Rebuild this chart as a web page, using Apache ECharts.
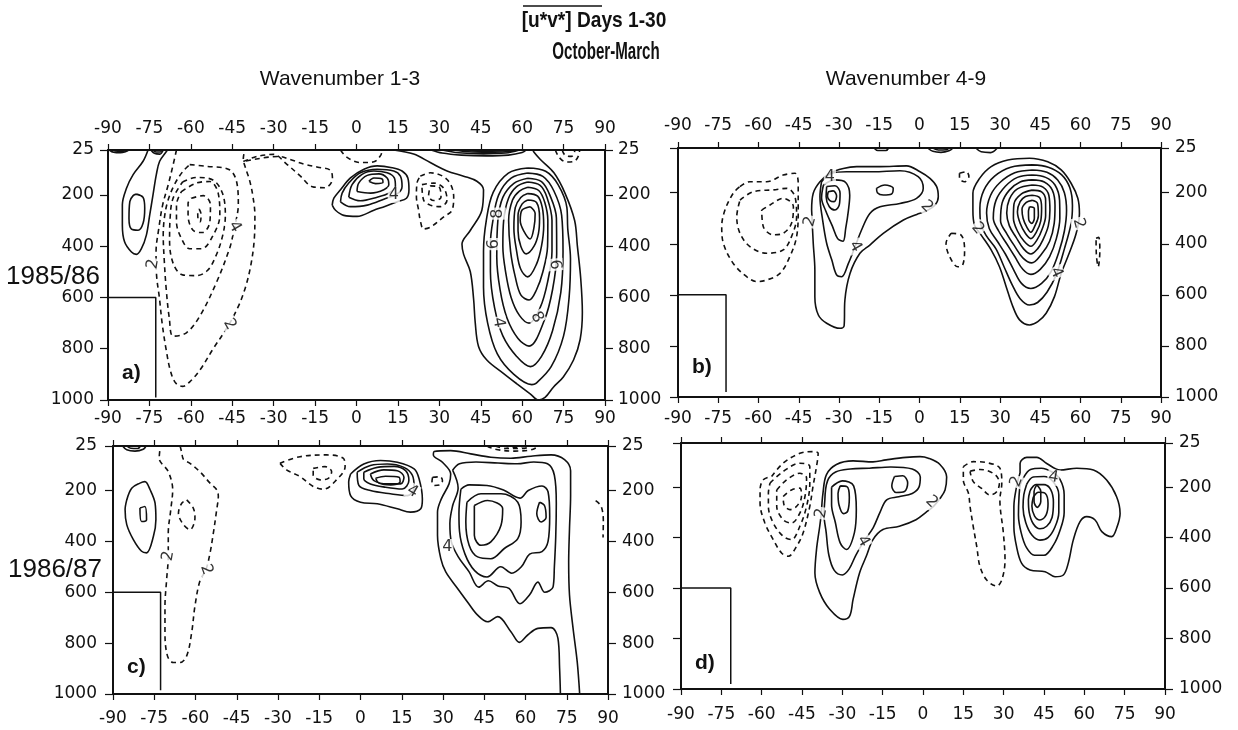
<!DOCTYPE html>
<html>
<head>
<meta charset="utf-8">
<script src="https://cdn.jsdelivr.net/npm/echarts@6/dist/echarts.min.js"></script>
<style>
html,body{margin:0;padding:0;background:#fff}
#chart{width:1238px;height:730px}
</style>
</head>
<body>
<div id="chart"></div>
<script>
// Axis ticks: pressure (hPa); latitude ticks come from a 15-degree interval
const pressureTicks = [25, 200, 400, 600, 800, 1000];

// ---------- Panel a: 1985/86, wavenumber 1-3 ----------
const aSolidOpen = [
  [[-75.5,25],[-77.3,69],[-80.9,121],[-83.3,174],[-84.8,239],[-84.8,318],[-84,383],[-81.5,423],[-79.7,432],[-77.9,410],[-76.1,357],[-74.9,279],[-73.7,200],[-72.5,121],[-71.3,69],[-68.8,30],[-68.5,25]],
  [[-89.5,25],[-88,34],[-85.5,36],[-83.5,31],[-82.5,25]],
  [[-88.5,25],[-86.5,30],[-84.5,30],[-83.5,25]],
  [[-74.5,25],[-73.2,38],[-71.2,41],[-70,25]],
  [[-73.8,25],[-72.6,33],[-71,33],[-70.6,25]],
  [[27,25],[31,37],[38,45],[47,48],[55,45],[60,35],[61.5,25]],
  [[31,25],[37,36],[46,40],[54,37],[59,25]],
  [[35,25],[42,33],[50,34],[56,30],[57.5,25]],
  [[39,25],[45,30],[52,29],[55,25]],
  [[13.5,25],[20.7,41],[26.7,74],[32.8,107],[38.8,127],[43.6,147],[46,180],[45.4,260],[41.2,339],[38.2,392],[38.8,432],[41.2,499],[42.4,605],[43,698],[44.2,791],[47.2,844],[53.3,897],[58.1,937],[62.9,976],[65.9,1000],[68.3,990],[71.3,950],[74.9,910],[78.6,844],[81,764],[81.8,658],[81.2,525],[80,400],[79,300],[75.5,193],[71.5,114],[66.5,61],[64.3,34],[63.9,25]]
];
const aSolidLoops = [
  [[-79.7,197],[-77.3,210],[-76.7,252],[-77.3,311],[-79.1,338],[-81.5,334],[-82.4,292],[-82.1,226],[-80.9,203]],
  [[-8.8,240],[-7.6,260],[-4.6,280],[0.2,284],[6.3,260],[10.5,244],[14.7,227],[18.1,213],[19,180],[18.6,134],[16.5,107],[12.9,94],[7.5,87],[2.7,100],[-2.2,134],[-5.8,180],[-8.2,213]],
  [[-5.8,227],[-2.2,246],[3.9,240],[9.9,217],[14.7,196],[16.5,167],[15.9,127],[13.5,107],[7.5,100],[1.4,114],[-2.8,154],[-5.2,193]],
  [[-2.8,209],[1.4,223],[7.5,209],[11.7,193],[14.1,167],[13.7,134],[11.1,114],[6.3,107],[2,120],[-1.6,160]],
  [[0.2,187],[5.1,193],[9.9,180],[11.7,160],[11.1,134],[8.1,118],[3.9,124],[0.8,154]],
  [[4.5,147],[6.9,156],[9.6,151],[9.3,138],[6.3,134]],
  [[62,95],[68.5,108],[73,160],[76.2,250],[76.5,330],[77.5,450],[77,600],[75,750],[70.5,870],[65,935],[63.5,940],[57,900],[51,820],[47.5,700],[46,560],[46,420],[47,300],[49.5,190],[55,115]],
  [[62,115],[67.5,128],[71.5,185],[74.3,280],[74.8,420],[74,580],[71,730],[67,830],[63,870],[58,830],[53,750],[50,640],[48.5,500],[48.5,390],[49.4,300],[51.5,200],[56,135]],
  [[62,135],[67,148],[70,200],[72.4,290],[72.5,430],[71,570],[68,690],[62.5,790],[58.5,760],[54.5,680],[52,570],[50.8,440],[51.2,300],[53,210],[57,155]],
  [[62,150],[66.5,163],[69,210],[70.8,300],[70.8,420],[69.2,540],[66.5,640],[62.5,700],[59,670],[56,600],[54,500],[53,400],[53.3,300],[55,215],[58,168]],
  [[62,170],[66,183],[68.2,230],[69.3,300],[69.2,400],[67.5,500],[65.2,570],[62.5,610],[59.5,590],[57.5,520],[55.8,420],[55.1,300],[56.5,220],[59,185]],
  [[62,195],[65.6,205],[67.3,250],[67.8,320],[67,400],[65.2,470],[62,520],[59.5,490],[58,420],[57,330],[57.5,250],[59.5,210]],
  [[62,220],[65.2,230],[66.3,290],[65.9,350],[64.3,400],[61.5,430],[59.5,400],[58.5,340],[58.5,280],[60,235]],
  [[62.9,246],[64.7,273],[64.3,326],[62.9,372],[60.5,339],[59.3,300],[59.9,260]]
];
const aDashOpen = [
  [[-65.2,25],[-66.4,82],[-68.2,161],[-70.2,239],[-71.6,331],[-72.6,423],[-72.4,515],[-71.4,600],[-70.4,700],[-69,800],[-67.3,890],[-65.4,935],[-63,947],[-60,925],[-56.5,880],[-51.9,800],[-47,720],[-43,640],[-40.2,560],[-38.2,470],[-37,370],[-36.8,280],[-37.6,200],[-38.8,140],[-40.2,95],[-41,60],[-40.5,25]],
  [[-5.8,25],[-3.4,54],[1.4,74],[6.3,71],[8.7,47],[9.3,25]],
  [[72,25],[73.5,55],[76,72],[79,68],[80.5,45],[80.8,25]],
  [[74.5,25],[75.5,45],[77.8,50],[79,30],[79,25]]
];
const aDashLoops = [
  [[-60.4,82],[-55,88],[-46,102],[-43.2,161],[-42.8,239],[-43.6,300],[-44.5,345],[-46,410],[-50.7,541],[-56.7,672],[-61.6,738],[-66.4,751],[-67.8,680],[-68.9,570],[-69.6,460],[-70,357],[-69.6,292],[-68.4,226],[-66,161],[-63,110]],
  [[-63,150],[-58,132],[-52,142],[-48.5,195],[-47.5,280],[-48.5,360],[-51,440],[-54,495],[-58,515],[-63,512],[-66.3,470],[-67.7,380],[-67.5,290],[-66.5,215]],
  [[-63.4,187],[-58,154],[-53.1,148],[-50.1,193],[-49.5,279],[-51.9,357],[-56.1,410],[-60.4,410],[-63.4,370],[-65.2,305],[-65.2,239]],
  [[-59.8,213],[-55.5,203],[-52.9,239],[-53.1,305],[-55.8,347],[-59.2,338],[-61,279],[-61,233]],
  [[-57,255],[-56.3,275],[-56.6,305],[-57.3,300],[-57.5,270]],
  [[-41,70],[-36,50],[-30,42],[-25.5,78],[-20.5,125],[-16,168],[-11.5,172],[-8.7,138],[-9.5,104],[-14,92],[-19,80],[-24,62],[-28,50]],
  [[23.1,127],[26.7,114],[32.8,140],[35.2,207],[34.6,260],[31.6,286],[26.7,326],[24.3,333],[23.1,300],[22.5,260],[21.7,207],[21.9,154]],
  [[23.7,160],[28,154],[31.6,174],[32.8,220],[30.4,246],[26.7,240],[24.3,220]],
  [[26.7,165],[29.8,168],[30.6,209],[28,222],[26.1,204]]
];
const aLabels = [[-73.7,470,'2'],[-44.1,325,'4'],[-45.9,705,'2'],[13.5,200,'4'],[51.2,273,'8'],[49.6,392,'6'],[71.9,472,'6'],[65.3,678,'8'],[51.4,698,'4']];
const aLabelTilt = [80,-60,-60,0,90,90,-85,-60,-80];
const aBox = [[-90,600],[-72.7,600],[-72.7,990]];

// ---------- Panel b: 1985/86, wavenumber 4-9 ----------
const bSolidOpen = [
  [[3,25],[5,38],[8,42],[11,36],[12.5,25]],
  [[5,25],[7,33],[10,32],[11,25]],
  [[21,25],[23,40],[26.5,43],[29,25]],
  [[-17,25],[-15.5,35],[-12.5,35],[-11.5,25]]
];
const bSolidLoops = [
  [[-40.2,268],[-39.6,398],[-39,503],[-39,607],[-37.7,679],[-34.6,711],[-29.6,731],[-28.1,722],[-27.8,620],[-25.9,516],[-22.2,437],[-18.5,405],[-13.5,359],[-6,307],[-1,285],[2,274],[5.8,248],[7,216],[6.4,176],[3.9,144],[0.2,118],[-4.8,95],[-14.7,98],[-23.4,98],[-28.4,105],[-33.4,124],[-37.1,157],[-39.6,202]],
  [[-36.5,157],[-32.7,124],[-27.2,118],[-17.2,118],[-7.3,114],[-0.5,137],[1.4,183],[-1.1,222],[-7.3,242],[-14.7,255],[-18.5,281],[-21.6,346],[-24,411],[-26.5,477],[-29,529],[-30.9,522],[-32.7,463],[-34.6,398],[-36.1,307],[-37.1,216]],
  [[-35.8,170],[-31.5,150],[-27.5,160],[-26,210],[-26.5,270],[-27.5,340],[-28.5,390],[-30.5,380],[-32.5,330],[-35,270],[-36.5,220]],
  [[-34.6,176],[-31.5,173],[-29.6,202],[-29.9,248],[-31.5,268],[-33.6,255],[-34.8,216]],
  [[-34,196],[-32.2,193],[-30.9,213],[-31.8,235],[-33.4,231],[-34.3,213]],
  [[-16,183],[-12.9,170],[-9.8,183],[-10.4,205],[-13.5,209],[-15.7,200]],
  [[19.9,268],[19.9,202],[22.4,144],[26.7,98],[32.9,72],[41,65],[47.8,79],[52.8,111],[56.5,163],[59,222],[59.6,281],[58.4,359],[55.3,450],[52.8,516],[50.3,607],[47.2,672],[44.1,705],[41,718],[37.3,698],[34.8,646],[32.3,568],[29.8,490],[26.7,424],[23,366],[20.5,327]],
  [[42,91],[48,100],[53,130],[56,180],[57,250],[56.5,320],[54,420],[51,520],[47.5,590],[44,630],[41,640],[37.5,615],[34.5,560],[31.5,490],[28.5,420],[25,370],[22.8,320],[22.5,260],[24,190],[28,135],[34,100]],
  [[42,111],[47.5,120],[51.5,150],[54,200],[54.8,270],[54,350],[52,430],[49,510],[45.5,555],[41.5,575],[38,555],[35,500],[32,440],[29,390],[26,340],[25,280],[26.5,210],[30,160],[35.5,122]],
  [[42,131],[47,140],[50.5,170],[52.2,230],[52.3,300],[51,380],[48.5,450],[45,500],[41.5,520],[38.5,500],[35.5,450],[32.5,400],[29.5,350],[27.5,300],[28.5,230],[32,175],[36.5,140]],
  [[42,150],[46.5,158],[49.5,190],[50.5,250],[50.2,320],[48.5,390],[45.5,440],[41.8,475],[38.5,455],[35.5,410],[32.5,360],[30.2,310],[30.8,240],[33.5,190],[37.5,158]],
  [[42,170],[46,178],[48.2,210],[48.6,270],[48,330],[46,385],[44,420],[41.5,440],[38.8,420],[36,375],[33.5,330],[32.5,280],[33.5,225],[36.5,185]],
  [[42,190],[45.5,197],[47,230],[47,290],[45.8,340],[43.8,385],[41.5,410],[39,390],[36.5,350],[35,300],[35.2,245],[38,205]],
  [[42,210],[44.8,220],[45.5,260],[45.2,310],[43.5,355],[41.5,380],[39.5,360],[37.5,320],[36.5,275],[37.5,235],[39.5,215]],
  [[42,230],[44,243],[44.3,290],[43,330],[41.5,355],[40,335],[38.6,300],[38.2,265],[39.8,238]],
  [[41,255],[42.8,262],[42.8,300],[41.8,320],[40.7,305],[40.6,275]]
];
const bDashLoops = [
  [[-66.9,176],[-63.2,157],[-57,157],[-50.8,131],[-46.4,124],[-45.2,163],[-45.2,268],[-45.8,372],[-48.3,450],[-52,516],[-57,542],[-60.7,548],[-64.4,529],[-69.4,477],[-73.1,398],[-73.7,333],[-72.5,268],[-69.4,202]],
  [[-66.9,229],[-61.9,196],[-54.5,189],[-49.5,183],[-46.4,216],[-45.8,294],[-47.7,372],[-50.8,424],[-57,437],[-63.2,411],[-66.9,359],[-68.1,294]],
  [[-58.8,268],[-55.7,248],[-50.8,222],[-47,255],[-47.7,320],[-50.8,359],[-54.5,365],[-58.2,333]],
  [[14.9,124],[17.4,118],[18.4,137],[16.8,157],[14.9,144]],
  [[11.8,359],[15.5,366],[16.8,424],[16.1,483],[14.3,490],[11.2,450],[9.9,398]],
  [[65.8,378],[66.8,375],[67.2,430],[66.6,490],[65.9,440]]
];
const bLabels = [[-33.4,137,'4'],[-40.8,313,'2'],[-24,411,'4'],[2.7,255,'2'],[21.7,340,'2'],[59.4,320,'2'],[50.9,513,'4']];
const bLabelTilt = [0,75,-60,-45,-50,-75,-65];
const bBox = [[-90,600],[-72.1,600],[-72.1,980]];

// ---------- Panel c: 1986/87, wavenumber 1-3 ----------
const cSolidOpen = [
  [[-86.5,25],[-85,40],[-82,45],[-79,38],[-78,25]],
  [[-85,25],[-83.5,34],[-81,35],[-80,25]],
  [[72.7,1000],[72.4,899],[71.8,781],[69.3,739],[64.5,742],[60.8,768],[57.8,797],[54.7,755],[49.9,696],[46.2,716],[42.6,690],[38.9,638],[35.3,585],[31,520],[29.2,468],[28,376],[28,285],[29.4,233],[32.2,174],[32.8,135],[29.8,89],[26.5,60],[26.8,47],[32.8,43],[40.1,56],[47.4,69],[54.7,73],[62,65],[69.3,60],[74.2,79],[76.4,122],[76.4,220],[76,350],[75.7,481],[76,611],[77.3,742],[78.8,873],[79.7,1000]]
];
const cSolidLoops = [
  [[-85,237],[-83.2,191],[-80.2,171],[-78.4,165],[-76.5,197],[-74.7,250],[-74.4,315],[-75.3,380],[-77.8,445],[-79.6,439],[-82.6,393],[-85,334],[-85.6,276]],
  [[-80.2,269],[-78.4,263],[-77.8,315],[-79.6,322]],
  [[-3.6,135],[1.2,96],[7.3,82],[13.4,89],[19.5,115],[21.3,154],[22.5,233],[21.9,272],[18.2,285],[13.4,272],[6.1,252],[0,246],[-3.6,220],[-4.3,167]],
  [[-1.2,128],[3.6,102],[9.7,96],[15.8,109],[18.9,141],[19.5,187],[17,220],[10.9,213],[3.6,200],[-0.6,180]],
  [[1.2,128],[6.1,109],[12.2,105],[16.4,122],[17.6,161],[15.2,194],[9.1,187],[3.6,174],[1.2,154]],
  [[3.6,135],[8.5,119],[13.4,122],[15.8,148],[14.6,174],[9.7,174],[4.9,161]],
  [[5.5,152],[9.1,144],[14,148],[14.4,167],[11,178],[6.7,171]],
  [[33.5,120],[36,95],[42,88],[50,92],[57,95],[63,88],[68,95],[70.5,140],[71.2,250],[71,380],[70.5,500],[70,580],[67,600],[64.5,560],[61.5,610],[58,645],[54,585],[50,575],[46.5,555],[43,580],[39.5,520],[35.5,460],[33,400],[32.5,330],[33.5,260],[35.5,190]],
  [[36.5,195],[39.5,178],[46,180],[52,198],[58,230],[61,200],[66,182],[68.2,205],[68.8,300],[68.2,400],[66,440],[61.5,450],[58.5,500],[55,525],[51,500],[46,540],[41.5,515],[38,450],[36,360],[35.8,290]],
  [[38.7,246],[43.8,213],[51.1,213],[57.2,246],[58.4,324],[57.2,389],[52.3,428],[47.4,468],[42.6,461],[39.5,415],[38.3,324]],
  [[41.4,259],[46.2,239],[51.7,272],[51.1,337],[47.4,402],[43.8,415],[41.4,376],[41.4,298]],
  [[65.1,246],[66.9,259],[67.5,305],[65.7,324],[64.1,291]]
];
const cDashOpen = [
  [[-73,45],[-73.2,73],[-69.9,126],[-68.3,197],[-69,276],[-69.9,367],[-69.9,458],[-70.5,550],[-71.1,654],[-71.1,759],[-70.2,850],[-68.1,876],[-65.6,876],[-63.2,850],[-61.4,759],[-60.2,654],[-58.4,556],[-56.2,511],[-54.7,445],[-53.5,367],[-52.3,276],[-51.7,223],[-52.3,197],[-54.7,171],[-58.4,126],[-62,93],[-64.4,77],[-65,51],[-65.6,25]],
  [[85.5,240],[87.5,262],[88.3,320],[88.2,385]],
  [[46,25],[49,38],[56,45],[62,40],[65,25]],
  [[49,25],[53,35],[59,35],[62,25]],
  [[52,25],[56,31],[60,25]]
];
const cDashLoops = [
  [[-63.2,237],[-60.8,269],[-60.2,308],[-62,354],[-64.4,334],[-66.2,289],[-65,250]],
  [[-29.3,93],[-22,67],[-12.3,60],[-6.3,73],[-5.6,106],[-8.7,158],[-13.5,195],[-17.2,184],[-22,145],[-26.9,119]],
  [[-17.2,113],[-12.9,106],[-10.5,126],[-11.7,152],[-14.7,158],[-17.2,139]],
  [[26.2,148],[29,146],[29.8,162],[28.8,178],[26.8,180],[26,165]]
];
const cLabels = [[-69.9,458,'2'],[-56,511,'2'],[18.9,204,'4'],[31.6,422,'4']];
const cLabelTilt = [80,-70,-30,0];
const cBox = [[-90,600],[-72.7,600],[-72.7,985]];

// ---------- Panel d: 1986/87, wavenumber 4-9 ----------
const dSolidLoops = [
  [[-37.8,303],[-38.4,355],[-39.6,447],[-40.2,540],[-38.4,618],[-34.7,684],[-29.8,724],[-27.3,711],[-26,645],[-23.6,540],[-21.1,474],[-18.6,408],[-14.9,368],[-8.8,355],[-2.6,329],[1.1,300],[4,275],[6.3,245],[8.2,211],[8.8,160],[6.3,110],[2,85],[-1.1,79],[-6.3,82],[-13.7,92],[-18.6,100],[-26,96],[-32.2,110],[-35.9,150],[-37.2,224]],
  [[-36.5,250],[-35.5,175],[-32.5,140],[-27,128],[-20,125],[-12,120],[-4,128],[-1,160],[-1.5,200],[-4,225],[-9,238],[-13.5,250],[-16,300],[-18.5,360],[-22,415],[-25,470],[-27.5,525],[-30,548],[-33,530],[-35,470],[-36,380],[-36.8,310]],
  [[-34,200],[-30,175],[-25.8,195],[-24.8,289],[-25.5,380],[-28.5,447],[-30.8,421],[-32.6,340],[-34,270]],
  [[-30.8,195],[-28.3,198],[-27.4,240],[-28,295],[-29.6,305],[-31.2,272],[-31.6,225]],
  [[-10.6,158],[-7.5,155],[-5.7,184],[-6.9,217],[-10,221],[-11.6,195]],
  [[36.1,145],[36.1,106],[38.6,82],[42.3,82],[46,106],[51,132],[57.2,125],[63.4,132],[68.3,172],[72,238],[73.3,304],[72,363],[70.2,396],[66.5,376],[64,330],[60.9,317],[58.4,337],[55.9,409],[54,502],[52.2,548],[49.1,555],[45.4,535],[39.8,528],[36.7,502],[34.8,436],[33.8,357],[33.8,277],[34.8,198]],
  [[37.5,160],[40,130],[44,125],[48,140],[51,170],[52.5,230],[52.5,300],[51,370],[48.5,430],[45,470],[41.5,470],[38.5,440],[36.5,380],[35.5,310],[35.7,240],[36.2,190]],
  [[38.5,190],[41,160],[45,158],[48.5,180],[50.5,230],[50.5,300],[49,360],[46.5,400],[43.5,410],[40.5,390],[38.2,340],[37.2,280],[37.5,230]],
  [[39.8,215],[42,190],[45,190],[47.5,210],[48.5,260],[48,320],[46,355],[43.5,365],[41,345],[39.5,300],[39.2,250]],
  [[41,240],[43,220],[45.5,225],[46.5,265],[45.8,310],[43.5,330],[41.5,315],[40.5,275]],
  [[42.3,191],[43.8,217],[43.8,257],[42.5,280],[41.3,257],[41.3,217]]
];
const dDashLoops = [
  [[-56.3,158],[-52,105],[-45.8,66],[-40.9,59],[-39,66],[-39.6,118],[-40.9,197],[-42.1,276],[-44.6,382],[-47,434],[-50.1,474],[-52.6,461],[-55.7,408],[-58.8,342],[-60.6,263],[-60.6,211],[-59.4,171]],
  [[-56.9,184],[-52,138],[-45.8,105],[-42.1,118],[-42.1,184],[-43.3,276],[-45.8,355],[-48.9,408],[-52,395],[-55.7,342],[-57.5,276],[-57.5,224]],
  [[-54.4,211],[-50.7,171],[-45.8,145],[-43.3,164],[-43.9,237],[-45.8,303],[-48.9,342],[-52,329],[-54.4,276]],
  [[-52,237],[-48.9,211],[-45.8,204],[-45.2,237],[-47,276],[-49.5,289],[-51.7,270]],
  [[15,119],[18.7,99],[23.7,103],[28.6,125],[29.3,185],[28.6,251],[29.9,383],[30.5,489],[29.3,568],[27.4,592],[23.7,568],[21.2,515],[20,436],[18.7,357],[17.5,277],[16.9,224],[15,172]],
  [[17.5,137],[21.2,130],[26.8,150],[28.4,185],[27.4,218],[24.9,231],[21.8,205],[18.7,178]]
];
const dLabels = [[-37.8,303,'2'],[-22.3,415,'4'],[3.2,258,'2'],[34.8,178,'2'],[48.5,161,'4']];
const dLabelTilt = [80,-60,-45,70,-10];
const dBox = [[-90,600],[-71.5,600],[-71.5,980]];

// ---------- layout ----------
const grids = [
  {left:108, top:150, width:497, height:250},
  {left:678, top:148, width:483, height:249},
  {left:113, top:446, width:495, height:248},
  {left:681, top:443, width:484, height:246}
];
// label margins per panel: [bottom, top, left, right]; null hides the labels
const labelMargins = [
  [10, 13, 14, 13],
  [13, 14, null, 14],
  [16, null, 16, 14],
  [17, null, null, 14]
];

const INK = '#111';
const tickFont = {color: INK, fontSize: 17, fontFamily: '"DejaVu Sans", Verdana, sans-serif', formatter: v => String(v)};

function xAxisFor(g, position, margin) {
  return {
    type: 'value', gridIndex: g, position, min: -90, max: 90, interval: 15,
    axisLine: {show: true, onZero: false, lineStyle: {color: INK, width: 2}},
    axisTick: {show: true, length: 6, lineStyle: {color: INK, width: 1.2}},
    axisLabel: Object.assign({show: margin !== null, margin: margin || 8}, tickFont),
    splitLine: {show: false}
  };
}
function yAxisFor(g, position, margin) {
  return {
    type: 'value', gridIndex: g, position, min: 25, max: 1000, inverse: true,
    axisLine: {show: true, onZero: false, lineStyle: {color: INK, width: 2}},
    axisTick: {show: true, length: 8, customValues: pressureTicks, lineStyle: {color: INK, width: 1.2}},
    axisLabel: Object.assign({show: margin !== null, margin: margin || 8, customValues: pressureTicks}, tickFont),
    splitLine: {show: false}
  };
}

const xAxes = [], yAxes = [];
grids.forEach((g, i) => {
  const m = labelMargins[i];
  xAxes.push(xAxisFor(i, 'bottom', m[0]));
  xAxes.push(xAxisFor(i, 'top', m[1]));
  yAxes.push(yAxisFor(i, 'left', m[2]));
  yAxes.push(yAxisFor(i, 'right', m[3]));
});

function close(pts) { return pts.concat([pts[0]]); }

function contourSeries(panel, lines, dashed, loop) {
  return lines.map(pts => ({
    type: 'line', xAxisIndex: 2 * panel, yAxisIndex: 2 * panel,
    data: loop ? close(pts) : pts,
    symbol: 'none', smooth: 0.35, silent: true, animation: false, z: 3,
    lineStyle: {color: INK, width: 1.6, type: dashed ? [5, 4] : 'solid'}
  }));
}
function boxSeries(panel, pts) {
  return {
    type: 'line', xAxisIndex: 2 * panel, yAxisIndex: 2 * panel, data: pts,
    symbol: 'none', silent: true, animation: false, z: 3,
    lineStyle: {color: INK, width: 1.5}
  };
}
function labelSeries(panel, items, tilts) {
  return {
    type: 'scatter', xAxisIndex: 2 * panel, yAxisIndex: 2 * panel,
    symbolSize: 1, itemStyle: {color: 'rgba(0,0,0,0)'}, silent: true, animation: false, z: 6,
    data: items.map((it, i) => ({value: [it[0], it[1]], name: it[2], label: {rotate: tilts[i]}})),
    label: {
      show: true, position: 'inside', formatter: p => p.name,
      fontSize: 16, fontFamily: '"DejaVu Sans", sans-serif', color: '#000',
      backgroundColor: '#fff', padding: [0, 1]
    }
  };
}

const series = [].concat(
  contourSeries(0, aSolidOpen, false, false),
  contourSeries(0, aSolidLoops, false, true),
  contourSeries(0, aDashOpen, true, false),
  contourSeries(0, aDashLoops, true, true),
  [boxSeries(0, aBox), labelSeries(0, aLabels, aLabelTilt)],
  contourSeries(1, bSolidOpen, false, false),
  contourSeries(1, bSolidLoops, false, true),
  contourSeries(1, bDashLoops, true, true),
  [boxSeries(1, bBox), labelSeries(1, bLabels, bLabelTilt)],
  contourSeries(2, cSolidOpen, false, false),
  contourSeries(2, cSolidLoops, false, true),
  contourSeries(2, cDashOpen, true, false),
  contourSeries(2, cDashLoops, true, true),
  [boxSeries(2, cBox), labelSeries(2, cLabels, cLabelTilt)],
  contourSeries(3, dSolidLoops, false, true),
  contourSeries(3, dDashLoops, true, true),
  [boxSeries(3, dBox), labelSeries(3, dLabels, dLabelTilt)]
);

const sans = '"Liberation Sans", Arial, Helvetica, sans-serif';
function text(x, y, str, font, align, extra) {
  return Object.assign({
    type: 'text', x, y, silent: true,
    style: {text: str, font, fill: INK, align: align || 'center', verticalAlign: 'middle',
            textAlign: align || 'center', textVerticalAlign: 'middle'}
  }, extra || {});
}

const chart = echarts.init(document.getElementById('chart'), null, {renderer: 'canvas'});
chart.setOption({
  backgroundColor: '#fff',
  animation: false,
  grid: grids,
  xAxis: xAxes,
  yAxis: yAxes,
  series,
  graphic: [
    text(594, 21, '[u*v*] Days 1-30', 'bold 22px ' + sans, 'center', {scaleX: 0.87}),
    {type: 'line', silent: true, shape: {x1: 523, y1: 6, x2: 602, y2: 6}, style: {stroke: INK, lineWidth: 1.6}},
    text(606, 52, 'October-March', 'bold 24px ' + sans, 'center', {scaleX: 0.63}),
    text(340, 79, 'Wavenumber 1-3', '21px ' + sans),
    text(906, 79, 'Wavenumber 4-9', '21px ' + sans),
    text(53, 277, '1985/86', '26px ' + sans),
    text(55, 570, '1986/87', '26px ' + sans),
    text(122, 373, 'a)', 'bold 21px ' + sans, 'left'),
    text(692, 367, 'b)', 'bold 21px ' + sans, 'left'),
    text(127, 667, 'c)', 'bold 21px ' + sans, 'left'),
    text(695, 663, 'd)', 'bold 21px ' + sans, 'left')
  ]
});
</script>
</body>
</html>
